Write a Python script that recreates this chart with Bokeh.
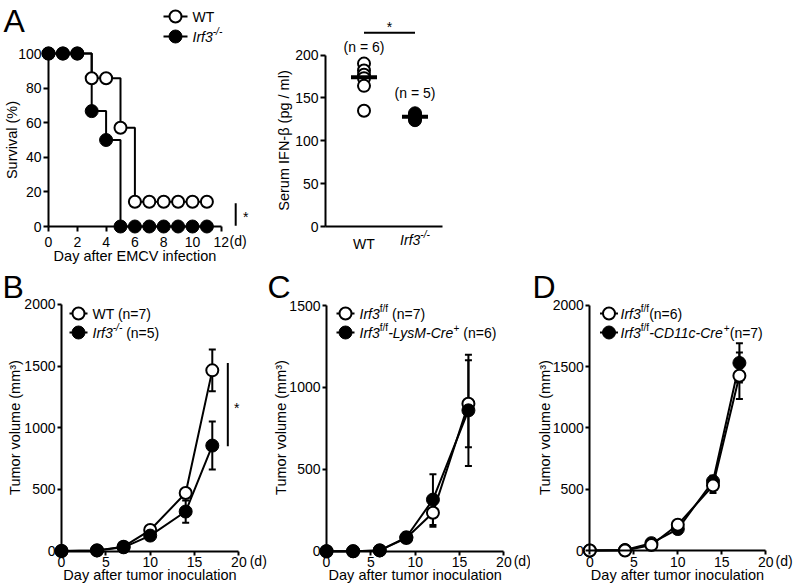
import math
from bokeh.plotting import figure
from bokeh.models import Label, Range1d, ColumnDataSource, Whisker, TeeHead, FixedTicker
from bokeh.layouts import row, column
from bokeh.embed import file_html
from bokeh.resources import INLINE

FONT = "Liberation Sans"

# ---------------- data ----------------
# A (left): survival after EMCV infection (%)
surv_days = [0, 1, 2, 3, 4, 5, 6, 7, 8, 9, 10, 11]
surv_wt = [100, 100, 100, 85.7, 85.7, 57.1, 14.3, 14.3, 14.3, 14.3, 14.3, 14.3]
surv_ko = [100, 100, 100, 66.7, 50.0, 0, 0, 0, 0, 0, 0, 0]
surv_xticks = [0, 2, 4, 6, 8, 10, 12]
surv_yticks = [0, 20, 40, 60, 80, 100]
surv_sig_day = 13
surv_sig = [0.5, 13.5]

# A (right): serum IFN-beta (pg/ml)
ifn_groups = [1, 2]
ifn_wt = [190, 182, 177, 173, 164, 135]
ifn_ko = [132, 130, 128, 126, 124]
ifn_mean = [174, 128]
ifn_n = ["(n = 6)", "(n = 5)"]
ifn_yticks = [0, 50, 100, 150, 200]
ifn_sig_y = 226

# B: tumor volume (mm3), WT vs Irf3-/-
b_days = [0, 4, 7, 10, 14, 17]
b_wt = [0, 5, 35, 170, 470, 1465]
b_wt_err = [0, 0, 5, 20, 40, 170]
b_ko = [0, 5, 30, 125, 320, 855]
b_ko_err = [0, 0, 5, 15, 90, 195]
b_yticks = [0, 500, 1000, 1500, 2000]
b_sig_day = 18.75
b_sig = [850, 1525]

# C: Irf3 f/f vs LysM-Cre
c_days = [0, 3, 6, 9, 12, 16]
c_wt = [0, 0, 5, 80, 235, 900]
c_wt_err = [0, 0, 3, 25, 85, 265]
c_ko = [0, 0, 5, 85, 315, 860]
c_ko_err = [0, 0, 3, 30, 155, 340]
c_yticks = [0, 500, 1000, 1500]

# D: Irf3 f/f vs CD11c-Cre
d_days = [0, 4, 7, 10, 14, 17]
d_wt = [0, 0, 45, 210, 530, 1425]
d_wt_err = [0, 0, 10, 20, 60, 190]
d_ko = [0, 5, 60, 175, 565, 1530]
d_ko_err = [0, 0, 10, 20, 45, 160]
d_yticks = [0, 500, 1000, 1500, 2000]

tumor_xticks = [0, 5, 10, 15, 20]

# ---------------- helpers ----------------
AW = {' ': 278, '(': 333, ')': 333, '+': 584, '-': 333, '/': 278, '=': 584, '%': 889, '*': 389}
for ch in "0123456789":
    AW[ch] = 556
AW.update({'A': 667, 'B': 667, 'C': 722, 'D': 722, 'E': 667, 'F': 611, 'I': 278, 'L': 556,
           'M': 833, 'N': 722, 'S': 667, 'T': 611, 'V': 667, 'W': 944, 'Y': 667,
           'a': 556, 'b': 556, 'c': 500, 'd': 556, 'e': 556, 'f': 278, 'g': 556, 'h': 556,
           'i': 222, 'k': 500, 'l': 222, 'm': 833, 'n': 556, 'o': 556, 'p': 556, 'r': 333,
           's': 500, 't': 278, 'u': 556, 'v': 500, 'w': 722, 'x': 500, 'y': 500, 'z': 500})


def tw(s, size):
    return sum(AW.get(c, 556) for c in s) * size / 1000.0


OPEN = dict(marker="circle", size=12, fill_color="white", line_color="black", line_width=2)
FILLED = dict(marker="circle", size=13, fill_color="black", line_color="black", line_width=1)


class Panel:
    def __init__(self, left, top, w, h, x0, sx, y0, sy):
        self.x0, self.sx, self.y0, self.sy = x0, sx, y0, sy
        p = figure(width=w, height=h,
                   x_range=Range1d((left - x0) / sx, (left + w - x0) / sx),
                   y_range=Range1d((y0 - top - h) / sy, (y0 - top) / sy),
                   output_backend="svg", toolbar_location=None,
                   min_border_left=0, min_border_right=0,
                   min_border_top=0, min_border_bottom=0)
        p.outline_line_color = None
        p.xgrid.visible = False
        p.ygrid.visible = False
        p.background_fill_color = "white"
        p.border_fill_color = "white"
        self.p = p

    def dx(self, px):
        return (px - self.x0) / self.sx

    def dy(self, py):
        return (self.y0 - py) / self.sy

    def px(self, x):
        return self.x0 + self.sx * x

    def py(self, y):
        return self.y0 - self.sy * y

    def text(self, px, py, s, size=14, italic=False, align="left", angle=0.0):
        # py is the vertical centre of the text
        self.p.add_layout(Label(x=self.dx(px), y=self.dy(py), text=s, text_font=FONT,
                                text_font_size=f"{size}px",
                                text_font_style="italic" if italic else "normal",
                                text_align=align, text_baseline="middle", angle=angle,
                                text_color="black"))

    def rich(self, px, py, segs, size=14, align="left"):
        ssize = round(size * 0.72, 1)
        widths = [tw(t, ssize if sup else size) for t, _, sup in segs]
        x = px - (sum(widths) / 2.0 if align == "center" else 0)
        for (t, it, sup), w in zip(segs, widths):
            fs = ssize if sup else size
            body = t.lstrip(" ")
            lead = tw(t[:len(t) - len(body)], fs)
            self.text(x + lead, py - (5 if sup else 0), body, size=fs, italic=it, align="left")
            x += w

    def swatch(self, cx, cy, style, half):
        self.p.line([self.dx(cx - half), self.dx(cx + half)], [self.dy(cy), self.dy(cy)],
                    line_width=2, color="black")
        self.p.scatter([self.dx(cx)], [self.dy(cy)], **style)

    def axes(self, xloc, xb, xt, yloc, yb, yt, tick_out=5, xstand=2):
        xa = self.p.xaxis[0]
        ya = self.p.yaxis[0]
        xa.fixed_location = xloc
        ya.fixed_location = yloc
        xa.bounds = xb
        ya.bounds = yb
        xa.ticker = FixedTicker(ticks=xt)
        ya.ticker = FixedTicker(ticks=yt)
        for ax in (xa, ya):
            ax.axis_line_width = 2
            ax.axis_line_color = "black"
            ax.major_tick_line_width = 2
            ax.major_tick_line_color = "black"
            ax.major_tick_out = tick_out
            ax.major_tick_in = 0
            ax.minor_tick_line_color = None
            ax.major_label_text_font = FONT
            ax.major_label_text_font_size = "14px"
            ax.major_label_text_color = "black"
            ax.major_label_standoff = 2
        xa.major_label_standoff = xstand
        # vertical centre of the x tick labels (page px)
        self.xlab_cy = self.py(xloc) + tick_out + xstand + 4
        return xa, ya

    def days_unit(self, last_tick, gap=1.5):
        lbl = str(last_tick)
        self.text(self.px(last_tick) + tw(lbl, 14) / 2 + gap, self.xlab_cy, "(d)")


def letter(P, px, cy, s):
    P.text(px, cy, s, size=32)


def tumor(P, days, wt, wt_err, ko, ko_err, wt_on_top=False):
    p = P.p
    for vals, errs in ((wt, wt_err), (ko, ko_err)):
        src = ColumnDataSource(dict(x=days,
                                    up=[v + e for v, e in zip(vals, errs)],
                                    lo=[v - e for v, e in zip(vals, errs)]))
        p.add_layout(Whisker(source=src, base="x", upper="up", lower="lo", dimension="height",
                             line_width=2, line_color="black", level="underlay",
                             upper_head=TeeHead(size=7, line_width=2, line_color="black"),
                             lower_head=TeeHead(size=7, line_width=2, line_color="black")))
    p.line(days, wt, line_width=2, color="black")
    p.line(days, ko, line_width=2, color="black")
    if wt_on_top:
        p.scatter(days, ko, **FILLED)
        p.scatter(days, wt, **OPEN)
    else:
        p.scatter(days, wt, **OPEN)
        p.scatter(days, ko, **FILLED)


# ---------------- panel A (left) ----------------
A1 = Panel(0, 0, 258, 270, 48, 14.4, 226, 1.73)
A1.axes(0, (0, 12), surv_xticks, 0, (0, 100), surv_yticks, xstand=5)
A1.p.step(surv_days, surv_wt, mode="after", line_width=2, color="black")
A1.p.step(surv_days, surv_ko, mode="after", line_width=2, color="black")
A1.p.scatter(surv_days, surv_wt, **OPEN)
A1.p.scatter(surv_days, surv_ko, **FILLED)
A1.p.line([surv_sig_day, surv_sig_day], surv_sig, line_width=2, color="black")
A1.text(A1.px(surv_sig_day) + 10, A1.py(sum(surv_sig) / 2) + 3, "*", align="center")
A1.days_unit(12, gap=0.5)
A1.text(11, 139.5, "Survival (%)", size=14.5, align="center", angle=math.pi / 2)
A1.text(134.5, 255, "Day after EMCV infection", size=14.5, align="center")
A1.swatch(175, 16, OPEN, 12)
A1.swatch(175, 36, FILLED, 12)
A1.rich(192, 16, [("WT", False, False)])
A1.rich(192, 36, [("Irf3", True, False), ("-/-", True, True)])
letter(A1, 3, 20, "A")

# ---------------- panel A (right) ----------------
A2 = Panel(258, 0, 212, 270, 312.5, 51, 226, 0.8575)
xa, ya = A2.axes(0, (A2.dx(325), A2.dx(442)), ifn_groups, A2.dx(325), (0, 200), ifn_yticks,
                 tick_out=0, xstand=9)
xa.major_tick_line_color = None
ya.major_tick_out = 5
xa.major_label_overrides = {1: "WT", 2: " "}
A2.p.scatter([ifn_groups[0]] * len(ifn_wt), ifn_wt, **OPEN)
A2.p.scatter([ifn_groups[1]] * len(ifn_ko), ifn_ko, **FILLED)
A2.p.segment(x0=[g - 0.255 for g in ifn_groups], x1=[g + 0.255 for g in ifn_groups],
             y0=ifn_mean, y1=ifn_mean, line_width=4, color="black")
A2.text(A2.px(1), A2.py(max(ifn_wt)) - 17, ifn_n[0], align="center")
A2.text(A2.px(2), A2.py(max(ifn_ko)) - 20, ifn_n[1], align="center")
A2.p.line(ifn_groups, [ifn_sig_y, ifn_sig_y], line_width=2, color="black")
A2.text(A2.px(1.5), A2.py(ifn_sig_y) - 6, "*", align="center")
A2.rich(A2.px(2), A2.xlab_cy, [("Irf3", True, False), ("-/-", True, True)], align="center")
A2.text(283, 140, "Serum IFN-\u03b2 (pg / ml)", size=14.5, align="center", angle=math.pi / 2)

# ---------------- panel B ----------------
B = Panel(0, 270, 267, 315, 61, 8.87, 550.5, 0.1233)
B.axes(0, (0, 20), tumor_xticks, 0, (0, 2000), b_yticks, tick_out=4, xstand=2)
tumor(B, b_days, b_wt, b_wt_err, b_ko, b_ko_err)
B.p.line([b_sig_day, b_sig_day], b_sig, line_width=2, color="black")
B.text(B.px(b_sig_day) + 9, B.py(sum(b_sig) / 2) + 3, "*", align="center")
B.days_unit(20, gap=3)
B.text(14, 427, "Tumor volume (mm\u00b3)", size=14.5, align="center", angle=math.pi / 2)
B.text(149.5, 574, "Day after tumor inoculation", size=14.5, align="center")
B.swatch(78, 313, OPEN, 9)
B.swatch(78, 332, FILLED, 9)
B.rich(92, 313, [("WT (n=7)", False, False)])
B.rich(92, 332, [("Irf3", True, False), ("-/-", True, True), (" (n=5)", False, False)])
letter(B, 2, 286.5, "B")

# ---------------- panel C ----------------
C = Panel(267, 270, 263, 315, 326, 8.87, 550.7, 0.1638)
C.axes(0, (0, 20), tumor_xticks, 0, (0, 1500), c_yticks, tick_out=4, xstand=2)
tumor(C, c_days, c_wt, c_wt_err, c_ko, c_ko_err)
C.days_unit(20, gap=2)
C.text(280, 427, "Tumor volume (mm\u00b3)", size=14.5, align="center", angle=math.pi / 2)
C.text(414.7, 574, "Day after tumor inoculation", size=14.5, align="center")
C.swatch(345, 313, OPEN, 9)
C.swatch(345, 332, FILLED, 9)
C.rich(359, 313, [("Irf3", True, False), ("f/f", False, True), (" (n=7)", False, False)])
C.rich(359, 332, [("Irf3", True, False), ("f/f", False, True), ("-LysM-Cre", True, False),
                  ("+", False, True), (" (n=6)", False, False)])
letter(C, 267, 286.5, "C")

# ---------------- panel D ----------------
D = Panel(530, 270, 263, 315, 589.3, 8.8, 550, 0.1226)
D.axes(0, (0, 20), tumor_xticks, 0, (0, 2000), d_yticks, tick_out=4, xstand=2)
tumor(D, d_days, d_wt, d_wt_err, d_ko, d_ko_err, wt_on_top=True)
D.days_unit(20, gap=2)
D.text(544, 427, "Tumor volume (mm\u00b3)", size=14.5, align="center", angle=math.pi / 2)
D.text(677, 574, "Day after tumor inoculation", size=14.5, align="center")
D.swatch(608.5, 313, OPEN, 9)
D.swatch(608.5, 332, FILLED, 9)
D.rich(620, 313, [("Irf3", True, False), ("f/f", False, True), ("(n=6)", False, False)])
D.rich(620, 332, [("Irf3", True, False), ("f/f", False, True), ("-CD11c-Cre", True, False),
                  ("+", False, True), ("(n=7)", False, False)])
letter(D, 532, 286.5, "D")

layout = column(row(A1.p, A2.p), row(B.p, C.p, D.p))
open("out.html", "w").write(file_html(layout, INLINE))
